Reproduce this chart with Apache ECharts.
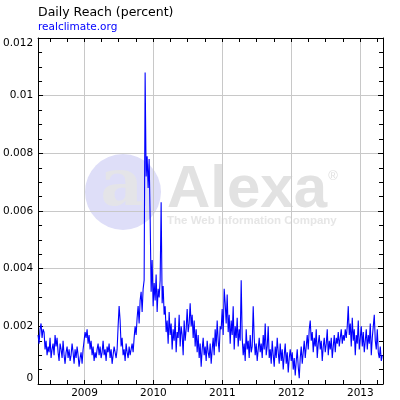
<!DOCTYPE html>
<html>
<head>
<meta charset="utf-8">
<script src="https://cdn.jsdelivr.net/npm/echarts@6/dist/echarts.min.js"></script>
<style>
html,body{margin:0;padding:0;background:#fff;}
#chart{width:400px;height:400px;}
</style>
</head>
<body>
<div id="chart"></div>
<script>
// ---- data (daily reach, percent), sampled roughly every 5.3 days from 2008-04-30 ----
const seriesStart = '2008-04-30';
const sampleStepDays = 5.3;
const reach2008 = [.0017,.0014,.0019,.0021,.0016,.0019,.0018,.0012,.0015,.0010,.0013,.0011,.0016,.0009,.0012,.0014,.0010,.0017,.0013,.0016,.0011,.0008,.0014,.0012,.0009,.0015,.0010,.0007,.0011,.0013,.0009,.0012,.0008,.0010,.0014,.0011,.0007,.0012,.0009,.0013,.0010,.0006,.0009,.0011,.0007,.0012];
const reach2009 = [.0015,.0018,.0016,.0019,.0014,.0017,.0012,.0015,.0010,.0013,.0008,.0011,.0009,.0012,.0014,.0010,.0013,.0009,.0011,.0015,.0010,.0012,.0008,.0013,.0011,.0014,.0009,.0012,.0007,.0010,.0013,.0011,.0009,.0012,
  .0020,.0027,.0022,.0013,.0016,.0010,.0012,.0008,.0014,.0011,.0009,.0013,.0010,.0012,
  .0014,.0011,.0016,.0020,.0017,.0023,.0027,.0021,.0029,.0032,.0025,.0033,.0036,
  .0108,.0072,.0079,.0068,.0078,.0058,.0032];
const reach2010 = [.0043,.0027,.0035,.0029,.0038,.0025,.0033,.0030,.0036,.0063,.0028,.0034,.0024,
  .0027,.0018,.0022,.0014,.0025,.0017,.0021,.0012,.0019,.0015,.0023,.0011,.0018,.0016,.0024,.0013,.0020,.0017,.0010,.0022,.0015,.0019,.0026,.0018,.0021,
  .0028,.0020,.0024,.0016,.0022,.0013,.0019,.0011,.0017,.0009,.0014,.0006,.0012,.0016,.0010,.0013,.0008,.0015,.0011,.0009,.0014,.0007,.0012,.0016,.0010,.0019,.0013,.0022,.0015,.0011,.0020];
const reach2011 = [.0019,.0026,.0017,.0033,.0028,.0021,.0031,.0018,.0024,.0014,.0022,.0017,.0027,.0012,.0020,.0016,.0023,.0013,.0019,.0015,
  .0036,.0016,.0010,.0014,.0008,.0019,.0012,.0015,.0009,.0017,.0011,.0013,.0027,.0016,.0010,.0014,.0008,.0012,.0016,
  .0011,.0014,.0009,.0017,.0012,.0021,.0010,.0013,.0020,.0009,.0012,.0007,.0015,.0010,.0006,.0013,.0009,.0016,.0011,.0007,.0014,.0008,.0012,.0005,.0010,.0014,.0007,.0011,.0004,.0009];
const reach2012 = [.0012,.0008,.0011,.0005,.0009,.0003,.0008,.0012,.0006,.0002,.0009,.0013,.0007,.0011,.0015,.0009,.0013,.0017,.0012,.0019,
  .0022,.0015,.0018,.0011,.0016,.0013,.0019,.0009,.0014,.0017,.0012,.0015,.0008,.0013,.0016,.0011,.0014,.0019,.0010,.0015,.0012,.0016,.0009,.0013,.0017,.0011,.0016,.0014,.0018,.0013,.0016,.0019,.0014,.0017,.0015,.0019,.0016,.0020,
  .0027,.0017,.0021,.0013,.0023,.0015,.0019,.0010,.0017,.0014,.0022,.0012,.0016,.0020,.0013,.0018,.0011];
const reach2013 = [.0015,.0019,.0012,.0017,.0014,.0021,.0010,.0016,.0020,.0024,.0015,.0012,.0019,.0011,.0009,.0013,.0008,.0010];

const axisMin = '2008-04-30';
const axisMax = '2013-05-01';
const yearLabels = [2009, 2010, 2011, 2012, 2013];
const tickYears = [2008, 2009, 2010, 2011, 2012, 2013];
const tickMonths = [1, 4, 7, 10];
const yTicks = [0, 0.002, 0.004, 0.006, 0.008, 0.01, 0.012];

const titleText = 'Daily Reach (percent)';
const subtitleText = 'realclimate.org';

// ---- build ----
const values = [].concat(reach2008, reach2009, reach2010, reach2011, reach2012, reach2013);
const t0 = new Date(seriesStart + 'T00:00:00').getTime();
const DAY = 86400000;
const points = values.map((v, i) => [t0 + i * sampleStepDays * DAY, v]);
const minT = new Date(axisMin + 'T00:00:00').getTime();
const maxT = new Date(axisMax + 'T00:00:00').getTime();
const yearStarts = yearLabels.map(y => new Date(y, 0, 1).getTime());
const quarterTicks = [];
tickYears.forEach(y => tickMonths.forEach(m => {
  const t = new Date(y, m - 1, 1).getTime();
  if (t > minT && t < maxT) quarterTicks.push(t);
}));

const font = 'DejaVu Sans';
const chart = echarts.init(document.getElementById('chart'), null, {renderer: 'canvas'});

const xBase = {
  type: 'value',
  min: minT,
  max: maxT,
  axisLine: {show: true, onZero: false, lineStyle: {color: '#000', width: 1}},
  axisTick: {show: true, inside: true, length: 4, customValues: quarterTicks, lineStyle: {color: '#000'}},
  minorTick: {show: false},
  splitLine: {show: false}
};

chart.setOption({
  animation: false,
  backgroundColor: '#fff',
  title: {
    text: titleText,
    subtext: subtitleText,
    left: 33, top: 1,
    itemGap: 3,
    textStyle: {fontFamily: font, fontSize: 12.5, fontWeight: 'normal', color: '#000'},
    subtextStyle: {fontFamily: font, fontSize: 10.5, color: '#0000ff'}
  },
  grid: {left: 38, right: 17, top: 38, bottom: 16, containLabel: false},
  graphic: [
    {type: 'circle', shape: {cx: 123, cy: 192, r: 38}, style: {fill: '#dedef8'}, z: -10, silent: true},
    {type: 'text', x: 122, y: 188, style: {text: 'a', font: 'bold 66px "DejaVu Serif"', fill: '#e4e4e8', align: 'center', verticalAlign: 'middle'}, z: -9, silent: true},
    {type: 'text', x: 167, y: 190, style: {text: 'Alexa', font: 'bold 60px "Liberation Sans"', fill: '#e2e2e2', align: 'left', verticalAlign: 'middle'}, z: -9, silent: true},
    {type: 'text', x: 333, y: 176, style: {text: '®', font: '13px "Liberation Sans"', fill: '#e0e0e0', align: 'center', verticalAlign: 'middle'}, z: -9, silent: true},
    {type: 'text', x: 167, y: 221, style: {text: 'The Web Information Company', font: 'bold 11.5px "Liberation Sans"', fill: '#e6e6e6', align: 'left', verticalAlign: 'middle'}, z: -9, silent: true}
  ],
  xAxis: [
    Object.assign({}, xBase, {
      position: 'bottom',
      axisLabel: {
        show: true, margin: 4, fontFamily: font, fontSize: 10.5, color: '#000',
        customValues: yearStarts,
        formatter: v => String(new Date(v).getFullYear())
      }
    }),
    Object.assign({}, xBase, {
      position: 'top',
      axisLabel: {show: false}
    }),
    {
      type: 'value', min: minT, max: maxT, position: 'bottom',
      axisLine: {show: false},
      axisTick: {show: false, customValues: yearStarts},
      axisLabel: {show: false},
      splitLine: {show: true, lineStyle: {color: '#c8c8c8', width: 1}}
    }
  ],
  yAxis: [
    {
      type: 'value', min: yTicks[0], max: yTicks[yTicks.length - 1], interval: yTicks[1] - yTicks[0],
      position: 'left',
      axisLine: {show: true, lineStyle: {color: '#000'}},
      axisTick: {show: true, inside: true, length: 5, lineStyle: {color: '#000'}},
      minorTick: {show: true, splitNumber: 4, length: 4, lineStyle: {color: '#000'}},
      axisLabel: {
        margin: 5, fontFamily: font, fontSize: 10.5, color: '#000',
        verticalAlignMinLabel: 'bottom', verticalAlignMaxLabel: 'top',
        formatter: v => String(+v.toFixed(4))
      },
      splitLine: {show: true, lineStyle: {color: '#c8c8c8', width: 1}}
    },
    {
      type: 'value', min: yTicks[0], max: yTicks[yTicks.length - 1], interval: yTicks[1] - yTicks[0],
      position: 'right',
      axisLine: {show: true, lineStyle: {color: '#000'}},
      axisTick: {show: true, inside: true, length: 5, lineStyle: {color: '#000'}},
      minorTick: {show: true, splitNumber: 4, length: 4, lineStyle: {color: '#000'}},
      axisLabel: {show: false},
      splitLine: {show: false}
    }
  ],
  series: [{
    type: 'line',
    xAxisIndex: 0, yAxisIndex: 0,
    data: points,
    showSymbol: false,
    symbol: 'none',
    lineStyle: {color: '#0000ff', width: 1.1},
    z: 5
  }]
});
</script>
</body>
</html>
